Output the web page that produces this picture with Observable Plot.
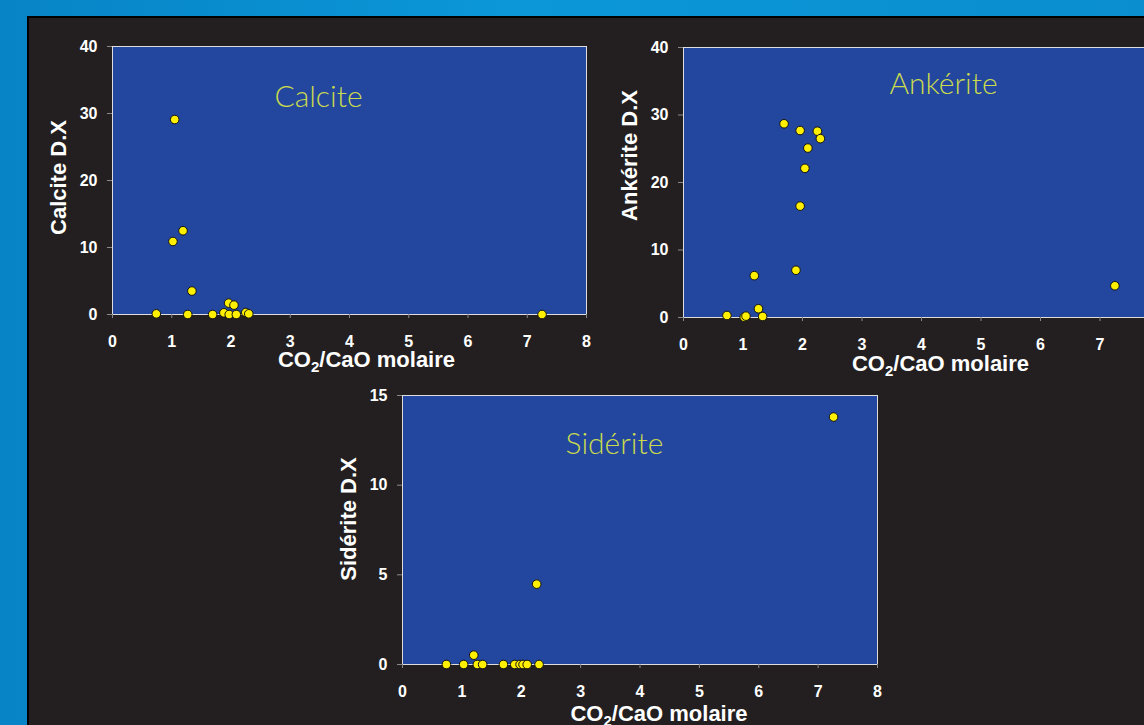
<!DOCTYPE html>
<html><head><meta charset="utf-8">
<script src="https://cdn.jsdelivr.net/npm/d3@7"></script>
<script src="https://cdn.jsdelivr.net/npm/@observablehq/plot@0.6"></script>
<style>
html,body{margin:0;padding:0;overflow:hidden;background:#0a8fd0;}
#stage{position:relative;width:1144px;height:725px;overflow:hidden;background:linear-gradient(90deg,#0784c6,#0b97d8 45%,#0a8ecf);}
#panel{position:absolute;left:27px;top:16px;width:1200px;height:800px;background:#231f20;border:2px solid #000;box-sizing:border-box;}
.chart{position:absolute;}
</style></head><body><div id="stage"><div id="panel"></div></div>
<script>
// ---- data ----
const xTicks = [0, 1, 2, 3, 4, 5, 6, 7, 8];
const xLabel = "CO2/CaO molaire";

const calciteX = [1.05, 1.19, 1.02, 1.34, 0.74, 1.27, 1.69, 1.88, 1.96, 2.05, 1.97, 2.09, 2.25, 2.30, 7.25];
const calciteY = [29.1, 12.5, 10.9, 3.5, 0.1, 0, 0, 0.25, 1.7, 1.4, 0, 0, 0.3, 0.1, 0];
const calciteTicks = [0, 10, 20, 30, 40];

const ankeriteX = [1.69, 1.96, 2.25, 2.30, 2.09, 2.04, 1.96, 1.89, 1.19, 1.26, 0.73, 1.02, 1.05, 1.33, 7.25];
const ankeriteY = [28.7, 27.7, 27.6, 26.5, 25.1, 22.1, 16.5, 7.0, 6.2, 1.3, 0.3, 0.05, 0.2, 0.15, 4.7];
const ankeriteTicks = [0, 10, 20, 30, 40];

const sideriteX = [0.74, 1.03, 1.20, 1.26, 1.35, 1.70, 1.89, 1.98, 2.03, 2.10, 2.26, 2.30, 7.26];
const sideriteY = [0, 0, 0.52, 0, 0, 0, 0, 0, 0, 0, 4.48, 0, 13.8];
const sideriteTicks = [0, 5, 10, 15];

const FONT = "'Liberation Sans', Arial, Helvetica, sans-serif";
const TITLE_FONT = "'Century Gothic', 'Lato', 'Open Sans', sans-serif";

function makeChart(o) {
  const data = o.xs.map((x, i) => ({x, y: o.ys[i]}));
  const svg = Plot.plot({
    width: o.width, height: o.height,
    marginLeft: o.m[0], marginTop: o.m[1], marginRight: o.m[2], marginBottom: o.m[3],
    x: {domain: [0, 8]},
    y: {domain: [0, o.yMax]},
    style: {background: "transparent", color: "white", fontFamily: FONT, fontWeight: "bold", fontSize: "16px", overflow: "visible"},
    marks: [
      Plot.frame({fill: "#23479e"}),
      Plot.frame({stroke: "#dedede", strokeWidth: 1}),
      Plot.axisX({ticks: xTicks, tickSize: 4, tickPadding: 17, stroke: "#8a8a8a", fill: "white", label: null, tickFormat: d => String(d)}),
      Plot.axisY({ticks: o.yTicks, tickSize: 5, tickPadding: 10, stroke: "#8a8a8a", fill: "white", label: null, tickFormat: d => String(d)}),
      Plot.text([o.title], {text: d => d, frameAnchor: "top-left", dx: o.tdx, dy: o.tdy, textAnchor: "middle", lineAnchor: "middle",
        fill: "#cadb4e", fontSize: 30, fontWeight: 300, fontFamily: TITLE_FONT}),
      Plot.text([xLabel], {text: d => d, frameAnchor: "bottom", dx: o.xdx, dy: o.xdy, textAnchor: "middle", lineAnchor: "middle", fontSize: 22, fill: "white"}),
      Plot.text([o.yLabel], {text: d => d, frameAnchor: "left", rotate: -90, dx: -54, dy: o.ydy, textAnchor: "middle", lineAnchor: "middle", fontSize: 22, fill: "white"}),
      Plot.dot(data, {x: "x", y: "y", r: 4.3, fill: "#fff000", stroke: "#111", strokeWidth: 1})
    ]
  });
  // subscript the 2 in CO2
  svg.querySelectorAll("text").forEach(t => {
    if (t.textContent === xLabel) {
      t.textContent = "";
      const ns = "http://www.w3.org/2000/svg";
      const a = document.createElementNS(ns, "tspan"); a.textContent = "CO";
      const b = document.createElementNS(ns, "tspan"); b.textContent = "2"; b.setAttribute("font-size", "15"); b.setAttribute("dy", "5");
      const c = document.createElementNS(ns, "tspan"); c.textContent = "/CaO molaire"; c.setAttribute("dy", "-5");
      t.append(a, b, c);
    }
  });
  svg.classList.add("chart");
  svg.style.left = o.left + "px";
  svg.style.top = o.top + "px";
  svg.style.position = "absolute";
  document.getElementById("stage").appendChild(svg);
}

makeChart({xs: calciteX, ys: calciteY, yMax: 40, yTicks: calciteTicks, title: "Calcite", yLabel: "Calcite D.X",
  left: 30, top: 30, width: 580, height: 350, m: [82, 16, 24, 66], tdx: 206, tdy: 51, xdx: 17, xdy: 45, ydy: -3});
makeChart({xs: ankeriteX, ys: ankeriteY, yMax: 40, yTicks: ankeriteTicks, title: "Ankérite", yLabel: "Ankérite D.X",
  left: 600, top: 30, width: 600, height: 350, m: [83, 17, 41, 63], tdx: 260, tdy: 37, xdx: 19, xdy: 46, ydy: -27});
makeChart({xs: sideriteX, ys: sideriteY, yMax: 15, yTicks: sideriteTicks, title: "Sidérite", yLabel: "Sidérite D.X",
  left: 330, top: 380, width: 600, height: 345, m: [72, 15, 53, 61], tdx: 212, tdy: 49, xdx: 19, xdy: 49, ydy: -11});
</script>
</body></html>
